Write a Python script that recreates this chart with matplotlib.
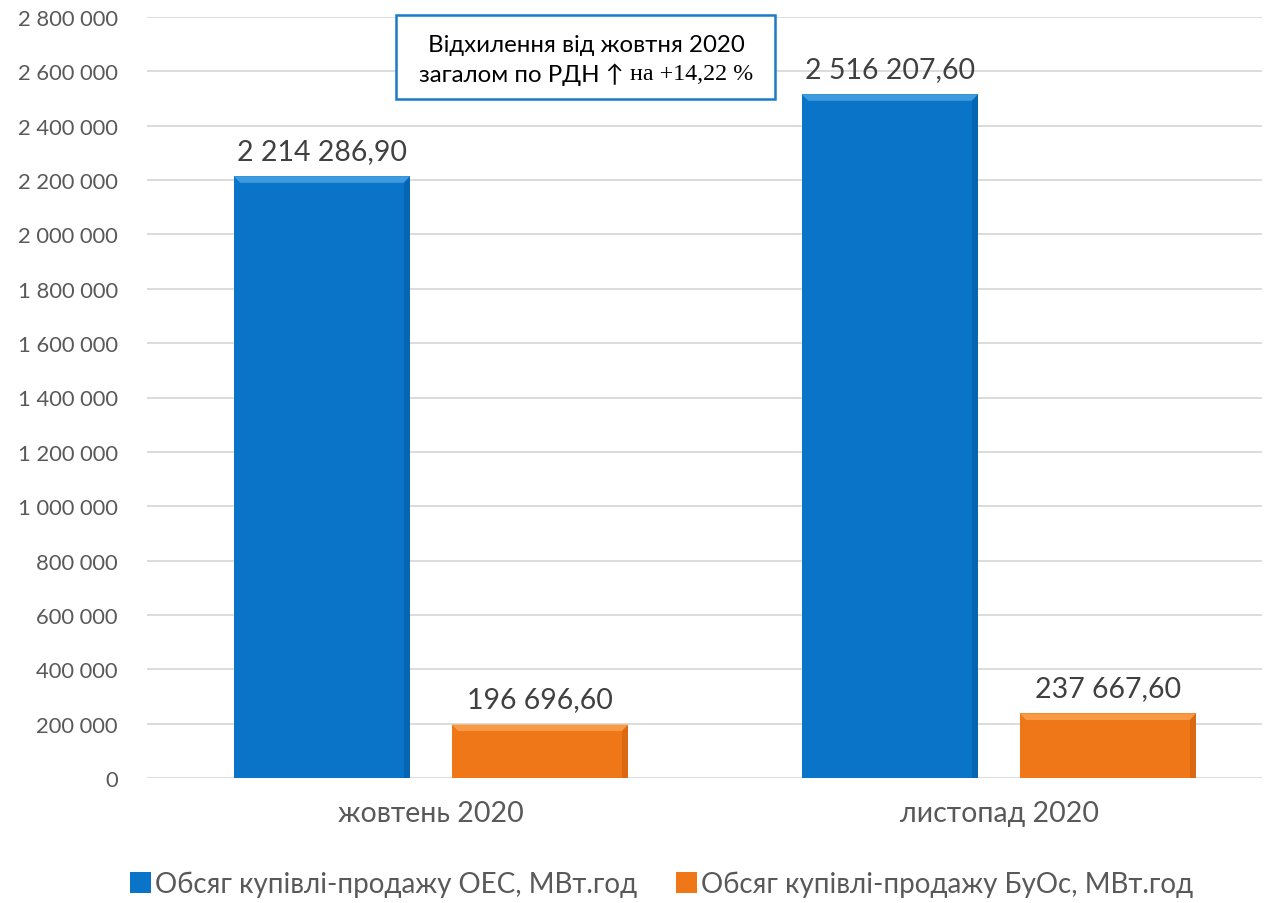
import matplotlib
matplotlib.use("Agg")
import matplotlib.pyplot as plt
from matplotlib.patches import Polygon, Rectangle
from matplotlib.ticker import FuncFormatter, MultipleLocator
import numpy as np

categories = ["жовтень 2020", "листопад 2020"]
series_names = ["Обсяг купівлі-продажу ОЕС, МВт.год", "Обсяг купівлі-продажу БуОс, МВт.год"]
oes_values = [2214286.90, 2516207.60]
buos_values = [196696.60, 237667.60]
oes_labels = ["2 214 286,90", "2 516 207,60"]
buos_labels = ["196 696,60", "237 667,60"]
note_line1 = "Відхилення від жовтня 2020"
note_line2a = "загалом по РДН ↑ "
note_line2b = "на +14,22 %"

BLUE = "#0A74C8"
ORANGE = "#F07717"
GRAY = "#595959"
FONT = ["Lato", "DejaVu Sans"]

plt.rcParams["font.family"] = FONT

fig = plt.figure(figsize=(12.66, 9.04), dpi=100)
ax = fig.add_axes([147/1266, 125/904, (1262-147)/1266, (779-18)/904])

x = np.arange(len(categories))
w = 0.311
off = 0.192
b1 = ax.bar(x - off, oes_values, w, color=BLUE, zorder=3, label=series_names[0])
b2 = ax.bar(x + off, buos_values, w, color=ORANGE, zorder=3, label=series_names[1])

def bevel(bars, light, dark):
    inv = ax.transData.inverted()
    for r in bars:
        x0, y0 = r.get_x(), r.get_y()
        x1, y1 = x0 + r.get_width(), y0 + r.get_height()
        px0 = ax.transData.transform((x0, y0))
        d = inv.transform(px0 + np.array([7, 7])) - np.array([x0, y0])
        dx, dy = d
        dy = min(dy, r.get_height() * 0.3)
        ax.add_patch(Polygon([(x0, y1), (x1, y1), (x1 - dx, y1 - dy), (x0 + dx, y1 - dy)],
                             closed=True, color=light, zorder=4, lw=0))
        ax.add_patch(Polygon([(x1, y1), (x1, y0), (x1 - dx, y0), (x1 - dx, y1 - dy)],
                             closed=True, color=dark, zorder=4, lw=0, alpha=0.45))

fig.canvas.draw()
bevel(b1, "#3F9BE0", "#05579A")
bevel(b2, "#F89A45", "#C25A0C")

ax.set_ylim(0, 2800000)
ax.set_xlim(-0.5, (1262-147)/568 - 0.5)
ax.yaxis.set_major_locator(MultipleLocator(200000))
ax.yaxis.set_major_formatter(FuncFormatter(lambda v, p: f"{int(v):,}".replace(",", " ")))
ax.grid(axis="y", color="#D9D9D9", lw=1.3, zorder=0)
for s in ax.spines.values():
    s.set_visible(False)
ax.tick_params(axis="y", length=0, labelsize=15.8, labelcolor=GRAY, pad=21)
ax.tick_params(axis="x", length=0, labelsize=20.5, labelcolor=GRAY, pad=16)
ax.set_xticks(x)
ax.set_xticklabels(categories)

for r, lab in zip(b1, oes_labels):
    ax.text(r.get_x() + r.get_width()/2, r.get_height() + 45000, lab, ha="center", va="bottom",
            fontsize=20.5, color="#404040", zorder=5)
for r, lab in zip(b2, buos_labels):
    ax.text(r.get_x() + r.get_width()/2, r.get_height() + 45000, lab, ha="center", va="bottom",
            fontsize=20.5, color="#404040", zorder=5)

# note box
fig.patches.append(Rectangle((396/1266, 1 - 100/904), (775-396)/1266, 84/904,
                             transform=fig.transFigure, fill=True, facecolor="white",
                             edgecolor="#1A7BC9", lw=1.8, zorder=10))
cx = 586/1266
t1 = fig.text(cx, 1 - 45/904, note_line1, ha="center", va="center", fontsize=17.3, color="black", zorder=11)
ta = fig.text(0, 1 - 75/904, note_line2a, ha="left", va="center", fontsize=17.3, color="black", zorder=11)
tb = fig.text(0, 1 - 75/904, note_line2b, ha="left", va="center", fontsize=17.3, color="black",
              family=["Liberation Serif", "DejaVu Serif"], zorder=11)
fig.canvas.draw()
r = fig.canvas.get_renderer()
wa = ta.get_window_extent(r).width
wb = tb.get_window_extent(r).width
W = fig.bbox.width
start = cx * W - (wa + wb) / 2
ta.set_x(start / W)
tb.set_x((start + wa) / W)

leg = fig.legend(handles=[b1, b2], labels=series_names, loc="center", bbox_to_anchor=(662/1266, 1 - 885/904),
                 ncol=2, frameon=False, fontsize=20, handlelength=0.75, handleheight=0.75,
                 handletextpad=0.15, columnspacing=1.4)
for t in leg.get_texts():
    t.set_color(GRAY)

fig.savefig("out.png", dpi=100)
